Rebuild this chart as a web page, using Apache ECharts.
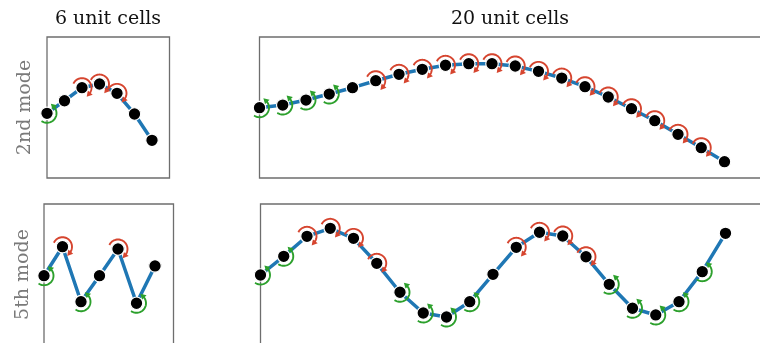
<!DOCTYPE html>
<html>
<head>
<meta charset="utf-8">
<script src="https://cdn.jsdelivr.net/npm/echarts@6/dist/echarts.min.js"></script>
<style>
  html, body { margin: 0; padding: 0; background: #fff; }
  #chart { width: 760px; height: 343px; }
</style>
</head>
<body>
<div id="chart"></div>
<script>
// Column and row headings
const columnTitles = ['6 unit cells', '20 unit cells'];
const rowTitles = ['2nd mode', '5th mode'];

// Transverse displacement of each node (arbitrary units)
const mode2Cells6 = [-0.082, 0.096, 0.281, 0.333, 0.201, -0.092, -0.465];
const mode2Cells20 = [-0.003, 0.035, 0.106, 0.191, 0.281, 0.380, 0.471, 0.542, 0.599, 0.621,
  0.621, 0.589, 0.513, 0.418, 0.295, 0.149, -0.017, -0.187, -0.380, -0.570, -0.769];
const mode5Cells6 = [-0.017, 0.394, -0.386, -0.017, 0.362, -0.408, 0.121];
const mode5Cells20 = [-0.007, 0.258, 0.542, 0.655, 0.513, 0.159, -0.252, -0.546, -0.603, -0.386,
  0.003, 0.386, 0.599, 0.546, 0.252, -0.139, -0.479, -0.574, -0.386, 0.040, 0.584];

// Node rotation sense: 1 = counter-clockwise, -1 = clockwise, 0 = none shown
const rotMode2Cells6 = [1, 0, -1, -1, -1, 0, 0];
const rotMode2Cells20 = [1, 1, 1, 1, 0, -1, -1, -1, -1, -1, -1, -1, -1, -1, -1, -1, -1, -1, -1, -1, 0];
const rotMode5Cells6 = [1, -1, 1, 0, -1, 1, 0];
const rotMode5Cells20 = [1, 1, -1, -1, -1, -1, 1, 1, 1, 1, 0, -1, -1, -1, -1, 1, 1, 1, 1, 1, 0];

const BLUE = '#1f77b4';
const RED = '#d6452f';
const GREEN = '#2ca02c';
const FRAME = '#6e6e6e';

const panels = [
  { disp: mode2Cells6, rot: rotMode2Cells6, xMax: 7, rect: { left: 47, top: 37, width: 122.5, height: 141 } },
  { disp: mode2Cells20, rot: rotMode2Cells20, xMax: 21.6, rect: { left: 259.5, top: 37, width: 502.2, height: 141 } },
  { disp: mode5Cells6, rot: rotMode5Cells6, xMax: 7, rect: { left: 44, top: 204, width: 129.5, height: 141 } },
  { disp: mode5Cells20, rot: rotMode5Cells20, xMax: 21.6, rect: { left: 260.5, top: 204, width: 502.2, height: 141 } }
];

// Curved arrow around a node showing its rotation direction
function renderRotation(params, api) {
  const dir = api.value(2);
  if (!dir) return null;
  const c = api.coord([api.value(0), api.value(1)]);
  const r = 9.5;
  const color = dir > 0 ? GREEN : RED;
  const a0 = dir > 0 ? 125 : 205;
  const a1 = dir > 0 ? -45 : 400;
  const n = 30;
  const pts = [];
  for (let i = 0; i <= n; i++) {
    const a = (a0 + (a1 - a0) * i / n) * Math.PI / 180;
    pts.push([c[0] + r * Math.cos(a), c[1] + r * Math.sin(a)]);
  }
  const ae = a1 * Math.PI / 180;
  const end = pts[n];
  const tx = dir > 0 ? Math.sin(ae) : -Math.sin(ae);
  const ty = dir > 0 ? -Math.cos(ae) : Math.cos(ae);
  const nx = -ty, ny = tx;
  const tip = [end[0] + tx * 4, end[1] + ty * 4];
  const b1 = [end[0] - tx * 1.5 + nx * 3.2, end[1] - ty * 1.5 + ny * 3.2];
  const b2 = [end[0] - tx * 1.5 - nx * 3.2, end[1] - ty * 1.5 - ny * 3.2];
  return {
    type: 'group',
    children: [
      { type: 'polyline', shape: { points: pts }, style: { stroke: color, lineWidth: 1.9, fill: null } },
      { type: 'polygon', shape: { points: [tip, b1, b2] }, style: { fill: color, stroke: null } }
    ]
  };
}

const grid = [], xAxis = [], yAxis = [], series = [];
panels.forEach((p, i) => {
  grid.push(Object.assign({
    show: true, borderColor: FRAME, borderWidth: 1.3, backgroundColor: 'transparent',
    containLabel: false, outerBoundsMode: 'none'
  }, p.rect));
  xAxis.push({
    type: 'value', gridIndex: i, min: 0, max: p.xMax,
    axisLine: { show: false }, axisTick: { show: false }, axisLabel: { show: false }, splitLine: { show: false }
  });
  yAxis.push({
    type: 'value', gridIndex: i, min: -1, max: 1,
    axisLine: { show: false }, axisTick: { show: false }, axisLabel: { show: false }, splitLine: { show: false }
  });
  const pts = p.disp.map((v, k) => [k, v]);
  series.push({
    type: 'line', xAxisIndex: i, yAxisIndex: i, data: pts, showSymbol: false, symbol: 'none',
    lineStyle: { color: BLUE, width: 3.5 }, z: 2, silent: true
  });
  series.push({
    type: 'custom', xAxisIndex: i, yAxisIndex: i,
    data: p.disp.map((v, k) => [k, v, p.rot[k]]),
    encode: { x: 0, y: 1 },
    renderItem: renderRotation, z: 3, silent: true
  });
  series.push({
    type: 'scatter', xAxisIndex: i, yAxisIndex: i, data: pts, symbolSize: 12.5,
    itemStyle: { color: '#000', borderColor: '#fff', borderWidth: 1.2, opacity: 1 }, z: 4, silent: true
  });
});

const textFont = '"DejaVu Serif", serif';
const graphic = [
  { type: 'text', x: 108, y: 19, style: { text: columnTitles[0], font: '19px ' + textFont, fill: '#111', align: 'center', verticalAlign: 'middle' } },
  { type: 'text', x: 510, y: 19, style: { text: columnTitles[1], font: '19px ' + textFont, fill: '#111', align: 'center', verticalAlign: 'middle' } },
  { type: 'text', x: 25, y: 107.5, rotation: Math.PI / 2, style: { text: rowTitles[0], font: '19px ' + textFont, fill: '#7a7a7a', align: 'center', verticalAlign: 'middle' } },
  { type: 'text', x: 23, y: 274.5, rotation: Math.PI / 2, style: { text: rowTitles[1], font: '19px ' + textFont, fill: '#7a7a7a', align: 'center', verticalAlign: 'middle' } }
];

const chart = echarts.init(document.getElementById('chart'), null, { renderer: 'canvas' });
chart.setOption({
  animation: false,
  backgroundColor: '#fff',
  grid, xAxis, yAxis, series, graphic
});
</script>
</body>
</html>
